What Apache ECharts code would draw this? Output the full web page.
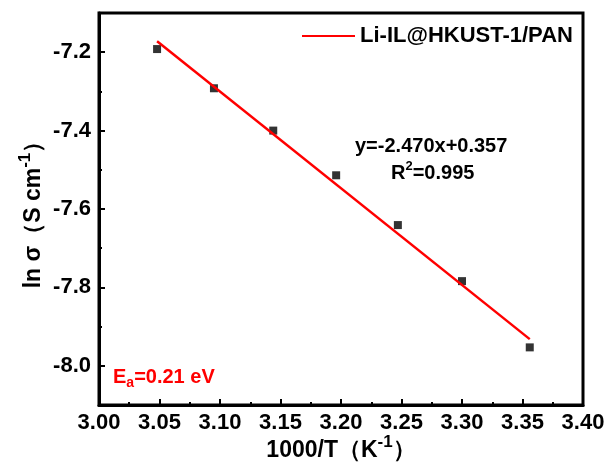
<!DOCTYPE html>
<html>
<head>
<meta charset="utf-8">
<script src="https://cdn.jsdelivr.net/npm/echarts@6/dist/echarts.min.js"></script>
<style>
html, body { margin: 0; padding: 0; background: #fff; }
#chart { width: 609px; height: 464px; }
</style>
</head>
<body>
<div id="chart"></div>
<script>
// measured points, 1000/T vs ln sigma
var xVals = [3.048, 3.095, 3.144, 3.196, 3.247, 3.300, 3.356];
var yVals = [-7.192, -7.292, -7.400, -7.514, -7.641, -7.784, -7.953];
// ends of the fitted line
var fitX = [3.048, 3.356];
var fitY = [-7.172, -7.932];
var yLabels = [-8.0, -7.8, -7.6, -7.4, -7.2];
var yMinor = [-8.1, -7.9, -7.7, -7.5, -7.3, -7.1];

var font = 'Liberation Sans';
var myChart = echarts.init(document.getElementById('chart'));

var pts = xVals.map(function (x, i) { return [x, yVals[i]]; });
var fit = fitX.map(function (x, i) { return [x, fitY[i]]; });

var supRich = {
    sup: { fontSize: 17, fontWeight: 'bold', fontFamily: font, color: '#000', verticalAlign: 'top', lineHeight: 16 }
};

myChart.setOption({
    animation: false,
    backgroundColor: '#fff',
    grid: { left: 99, right: 26, top: 13, bottom: 59, show: true, borderColor: '#000', borderWidth: 3,
        outerBoundsMode: 'none', containLabel: false },
    legend: {
        left: 297, top: 20,
        icon: 'rect', itemWidth: 53, itemHeight: 2, itemGap: 5,
        data: [{ name: 'Li-IL@HKUST-1/PAN', itemStyle: { color: '#ff0000' } }],
        textStyle: { fontFamily: font, fontWeight: 'bold', fontSize: 22, color: '#000' }
    },
    xAxis: {
        type: 'value', min: 3.0, max: 3.4, interval: 0.05,
        name: '1000/T（K{sup|-1}）', nameLocation: 'middle', nameGap: 29, nameMoveOverlap: false,
        nameTextStyle: { fontFamily: font, fontWeight: 'bold', fontSize: 23, color: '#000', lineHeight: 34, rich: supRich },
        axisLine: { lineStyle: { color: '#000', width: 3 } },
        axisTick: { inside: true, length: 6, lineStyle: { color: '#000', width: 2 } },
        minorTick: { show: true, splitNumber: 2, length: 3, lineStyle: { color: '#000', width: 2 } },
        axisLabel: { margin: 7, fontFamily: font, fontWeight: 'bold', fontSize: 22, color: '#000',
            formatter: function (v) { return v.toFixed(2); } },
        splitLine: { show: false }
    },
    yAxis: [{
        type: 'value', min: -8.1, max: -7.1,
        name: 'ln σ（S cm{sup|-1}）', nameLocation: 'middle', nameGap: 48, nameMoveOverlap: false,
        nameTextStyle: { fontFamily: font, fontWeight: 'bold', fontSize: 23, color: '#000', lineHeight: 34, rich: supRich },
        axisLine: { lineStyle: { color: '#000', width: 3 } },
        axisTick: { inside: true, length: 6, customValues: yLabels, lineStyle: { color: '#000', width: 2 } },
        axisLabel: { margin: 8, customValues: yLabels, fontFamily: font, fontWeight: 'bold', fontSize: 22, color: '#000',
            formatter: function (v) { return v.toFixed(1); } },
        splitLine: { show: false }
    }, {
        type: 'value', min: -8.1, max: -7.1, position: 'left',
        axisLine: { show: false },
        axisTick: { inside: true, length: 3, customValues: yMinor, lineStyle: { color: '#000', width: 2 } },
        axisLabel: { show: false },
        splitLine: { show: false }
    }],
    graphic: [{
        type: 'text', left: 355, top: 136,
        style: { text: 'y=-2.470x+0.357', fontFamily: font, fontWeight: 'bold', fontSize: 20, fill: '#000' }
    }, {
        type: 'text', left: 391, top: 160,
        style: {
            text: 'R{s|2}=0.995', fontFamily: font, fontWeight: 'bold', fontSize: 20, fill: '#000', lineHeight: 26,
            rich: { s: { fontSize: 13, fontWeight: 'bold', fontFamily: font, verticalAlign: 'top', lineHeight: 14 } }
        }
    }, {
        type: 'text', left: 113, top: 364,
        style: {
            text: 'E{s|a}=0.21 eV', fontFamily: font, fontWeight: 'bold', fontSize: 20, fill: '#ff0000', lineHeight: 26,
            rich: { s: { fontSize: 14, fontWeight: 'bold', fontFamily: font, fill: '#ff0000', verticalAlign: 'bottom', lineHeight: 14 } }
        }
    }],
    series: [{
        name: 'Li-IL@HKUST-1/PAN', type: 'line', data: fit,
        symbol: 'none', lineStyle: { color: '#ff0000', width: 2.5 }, itemStyle: { color: '#ff0000' }
    }, {
        name: 'data', type: 'scatter', data: pts,
        symbol: 'rect', symbolSize: 8, itemStyle: { color: '#000' }
    }]
});
</script>
</body>
</html>
